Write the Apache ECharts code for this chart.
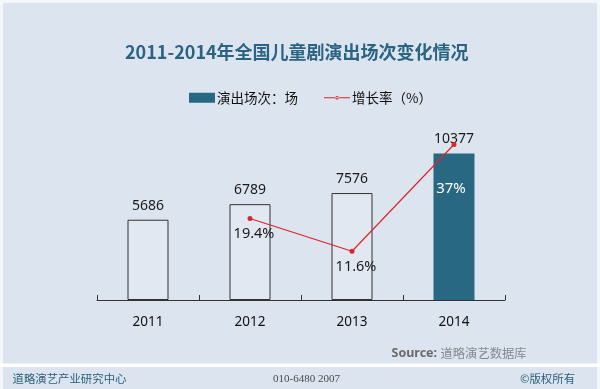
<!DOCTYPE html>
<html>
<head>
<meta charset="utf-8">
<script src="https://cdn.jsdelivr.net/npm/echarts@6/dist/echarts.min.js"></script>
<style>
html,body{margin:0;padding:0;background:#ffffff;}
#chart{width:600px;height:389px;}
</style>
</head>
<body>
<div id="chart"></div>
<script>
const titleText = '2011-2014年全国儿童剧演出场次变化情况';
const categories = ['2011', '2012', '2013', '2014'];
const shows = [5686, 6789, 7576, 10377];
const growth = [null, 19.4, 11.6, 37];
const seriesNames = ['演出场次：场', '增长率（%）'];
const sourceLabel = 'Source:';
const sourceText = '道略演艺数据库';
const footerLeft = '道略演艺产业研究中心';
const footerMid = '010-6480 2007';
const footerRight = '©版权所有';

const BG = '#dce4ef';
const TEAL = '#286883';
const RED = '#d8262c';
const FONT = "'Noto Sans', 'Noto Sans CJK SC', sans-serif";

const chart = echarts.init(document.getElementById('chart'), null, {renderer: 'canvas'});

const barData = shows.map((v, i) => {
  if (i === shows.length - 1) {
    return {value: v, itemStyle: {color: TEAL, borderColor: TEAL, borderWidth: 0}};
  }
  return {value: v, itemStyle: {color: '#e1e8f1', borderColor: '#333333', borderWidth: 1}};
});

const lineData = growth.map((v, i) => {
  if (i === growth.length - 1) {
    return {value: v, label: {show: true, position: 'bottom', distance: 6, offset: [-3, 28], color: '#ffffff', fontSize: 15}};
  }
  return {value: v};
});

const lineIcon = 'path://M0,4.6L24,4.6L24,5.4L0,5.4Z M10.3,5A1.7,1.7 0 1 0 13.7,5A1.7,1.7 0 1 0 10.3,5Z';

chart.setOption({
  backgroundColor: BG,
  animation: false,
  textStyle: {fontFamily: FONT},
  legend: {
    data: [
      {name: seriesNames[0], icon: 'rect'},
      {name: seriesNames[1], icon: lineIcon}
    ],
    left: 184,
    top: 86,
    itemWidth: 26,
    itemHeight: 10,
    itemGap: 26,
    textStyle: {fontSize: 13.5, color: '#111', fontFamily: "'Noto Sans CJK SC', sans-serif", padding: [0, 0, 0, -3]}
  },
  grid: {left: 97, right: 95, top: 130.6, bottom: 89, containLabel: false},
  xAxis: {
    type: 'category',
    data: categories,
    axisLine: {lineStyle: {color: '#333', width: 1}},
    axisTick: {show: true, inside: true, length: 5, lineStyle: {color: '#333'}},
    axisLabel: {fontSize: 13.5, color: '#111', margin: 15, fontFamily: FONT}
  },
  yAxis: [
    {type: 'value', min: 0, max: 12000, show: false, splitLine: {show: false}},
    {type: 'value', min: 0, max: 40.3, show: false, splitLine: {show: false}}
  ],
  series: [
    {
      name: seriesNames[0],
      type: 'bar',
      data: barData,
      barWidth: 41,
      itemStyle: {color: TEAL},
      label: {show: true, position: 'top', distance: 7, fontSize: 14, color: '#1a1a1a', fontFamily: FONT}
    },
    {
      name: seriesNames[1],
      type: 'line',
      yAxisIndex: 1,
      data: lineData,
      symbol: 'circle',
      symbolSize: 5,
      lineStyle: {color: RED, width: 1.2},
      itemStyle: {color: RED},
      z: 5,
      label: {show: true, position: 'bottom', distance: 6, offset: [4, 0], fontSize: 14.5, color: '#1a1a1a', formatter: '{c}%', fontFamily: FONT}
    }
  ],
  graphic: [
    {type: 'rect', shape: {x: 0, y: 0, width: 600, height: 3}, style: {fill: '#f3f6fa'}, z: 0},
    {type: 'rect', shape: {x: 0, y: 0, width: 3, height: 389}, style: {fill: '#f3f6fa'}, z: 0},
    {type: 'rect', shape: {x: 597, y: 0, width: 3, height: 389}, style: {fill: '#f3f6fa'}, z: 0},
    {type: 'rect', shape: {x: 0, y: 363.5, width: 600, height: 3.5}, style: {fill: '#ffffff'}, z: 0},
    {type: 'text', x: 125, y: 52, style: {text: titleText, fill: '#2b6482', font: "bold 18px 'Noto Sans CJK SC', sans-serif", textAlign: 'left', textVerticalAlign: 'middle'}},
    {type: 'text', x: 391.5, y: 353, style: {text: sourceLabel, fill: '#6a6a6a', font: "bold 12.5px 'Noto Sans', sans-serif", textAlign: 'left', textVerticalAlign: 'middle'}},
    {type: 'text', x: 440.5, y: 353, style: {text: sourceText, fill: '#858a90', font: "12.3px 'Noto Sans CJK SC', sans-serif", textAlign: 'left', textVerticalAlign: 'middle'}},
    {type: 'text', x: 12.5, y: 379, style: {text: footerLeft, fill: '#2b5f7a', font: "11.4px 'Noto Sans CJK SC', sans-serif", textAlign: 'left', textVerticalAlign: 'middle'}},
    {type: 'text', x: 273, y: 379, style: {text: footerMid, fill: '#4a4a4a', font: "11px 'Liberation Serif', serif", textAlign: 'left', textVerticalAlign: 'middle'}},
    {type: 'text', x: 520, y: 379, style: {text: footerRight, fill: '#2b5f7a', font: "11.4px 'Noto Sans CJK SC', sans-serif", textAlign: 'left', textVerticalAlign: 'middle'}}
  ]
});
</script>
</body>
</html>
